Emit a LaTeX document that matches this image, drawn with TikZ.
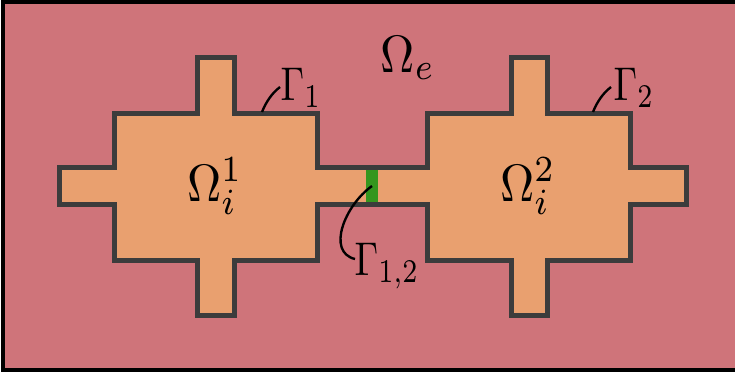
\documentclass[tikz,border=0pt]{standalone}
\usepackage{graphicx}
\definecolor{outerc}{RGB}{207,116,122}
\definecolor{innerc}{RGB}{233,160,111}
\definecolor{edgec}{RGB}{60,60,60}
\definecolor{ifacec}{RGB}{52,150,30}
\newcommand{\omlab}[1]{\scalebox{0.9}[1.0]{#1}}
\newcommand{\gamlab}[1]{\scalebox{0.72}[0.9]{#1}}
\begin{document}
\begin{tikzpicture}[x=0.19pt,y=-0.19pt,
  edge/.style={draw=edgec,line width=0.95pt,line join=miter},
  leader/.style={draw=black,line width=0.45pt},
  lab/.style={anchor=base,inner sep=0pt}]
\useasboundingbox (0,0) rectangle (735,373);
\clip (0,0) rectangle (735,373);
\fill[outerc] (3,2) rectangle (760,370);
\draw[black,line width=0.7pt] (3,2) rectangle (760,370);
\path[edge,fill=innerc]
  (197,57) -- (234,57) -- (234,113) -- (317,113) -- (317,167) -- (427,167)
  -- (427,113) -- (511,113) -- (511,57) -- (547,57) -- (547,113) -- (630,113)
  -- (630,167) -- (686,167) -- (686,204) -- (630,204) -- (630,260) -- (547,260)
  -- (547,315) -- (511,315) -- (511,260) -- (427,260) -- (427,204) -- (317,204)
  -- (317,260) -- (234,260) -- (234,315) -- (197,315) -- (197,260) -- (114,260)
  -- (114,204) -- (59,204) -- (59,167) -- (114,167) -- (114,113) -- (197,113) -- cycle;
\coordinate (ia) at (372,169.5);
\coordinate (ib) at (372,201.5);
\draw[ifacec,line width=2.1pt] (ia) -- (ib);
\node[lab] (oe) at (408,72) {\omlab{$\Omega_e$}};
\node[lab] (o1) at (215,201) {\omlab{$\Omega_i^1$}};
\node[lab] (o2) at (528,201) {\omlab{$\Omega_i^2$}};
\node[lab] (g1) at (301,100) {\gamlab{$\Gamma_1$}};
\node[lab] (g2) at (634,100) {\gamlab{$\Gamma_2$}};
\node[lab] (g12) at (387,275) {\gamlab{$\Gamma_{1,2}$}};
\coordinate (p1) at (262,112);
\coordinate (q1) at (280,87);
\coordinate (p2) at (593,112);
\coordinate (q2) at (611,87);
\coordinate (p12) at (372,186);
\coordinate (q12) at (355,259);
\draw[leader] (p1) .. controls (266,102) and (272,93) .. (q1);
\draw[leader] (p2) .. controls (597,102) and (603,93) .. (q2);
\draw[leader] (p12) .. controls (345,205) and (326,252) .. (q12);
\end{tikzpicture}
\end{document}
